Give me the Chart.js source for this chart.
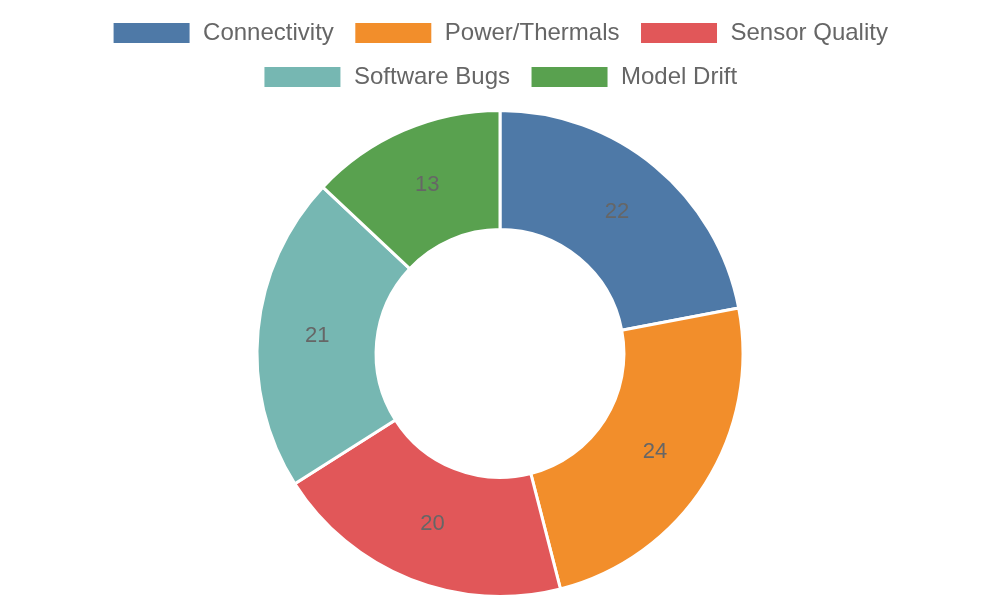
<!DOCTYPE html>
<html>
<head>
<meta charset="utf-8">
<script src="https://cdn.jsdelivr.net/npm/chart.js@4"></script>
<style>
    html, body { margin: 0; padding: 0; background: #fff; }
    #wrap { width: 1000px; height: 600px; }
</style>
</head>
<body>
<div id="wrap"><canvas id="issueChart"></canvas></div>
<script>
const categories = ['Connectivity', 'Power/Thermals', 'Sensor Quality', 'Software Bugs', 'Model Drift'];
const issueCounts = [22, 24, 20, 21, 13];
const sliceColors = ['#4e79a7', '#f28e2b', '#e15759', '#76b7b2', '#59a14f'];

// draws the value in the middle of each slice
const sliceLabels = {
    id: 'sliceLabels',
    afterDatasetsDraw(chart) {
        const ctx = chart.ctx;
        const meta = chart.getDatasetMeta(0);
        ctx.save();
        ctx.font = '22px "Liberation Sans", Arial, sans-serif';
        ctx.fillStyle = '#666666';
        ctx.textAlign = 'center';
        ctx.textBaseline = 'middle';
        meta.data.forEach((arc, i) => {
            const pos = arc.tooltipPosition();
            ctx.fillText(String(chart.data.datasets[0].data[i]), pos.x, pos.y);
        });
        ctx.restore();
    }
};

// a bit more room under the legend
const legendSpacing = {
    id: 'legendSpacing',
    beforeInit(chart) {
        const fit = chart.legend.fit;
        chart.legend.fit = function () {
            fit.bind(chart.legend)();
            this.height += 10;
        };
    }
};

new Chart(document.getElementById('issueChart').getContext('2d'), {
    type: 'doughnut',
    data: {
        labels: categories,
        datasets: [{
            data: issueCounts,
            backgroundColor: sliceColors,
            borderColor: '#ffffff',
            borderWidth: 3
        }]
    },
    options: {
        responsive: true,
        maintainAspectRatio: false,
        animation: false,
        cutout: '51%',
        layout: { padding: { top: 1, bottom: 2 } },
        plugins: {
            legend: {
                position: 'top',
                labels: {
                    boxWidth: 79,
                    boxHeight: 23,
                    padding: 20,
                    color: '#666666',
                    font: { family: '"Liberation Sans", Arial, sans-serif', size: 24 }
                }
            },
            tooltip: { enabled: false }
        }
    },
    plugins: [legendSpacing, sliceLabels]
});
</script>
</body>
</html>
